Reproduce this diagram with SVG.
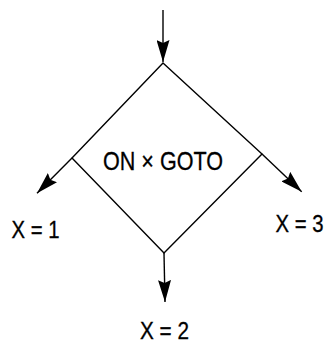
<svg xmlns="http://www.w3.org/2000/svg" width="330" height="344" viewBox="0 0 330 344">
<style>
.ln{fill:none;stroke:#000;stroke-width:1.4}
.tx{font-family:"Liberation Sans Narrow","Liberation Sans",Arial,sans-serif;fill:#000;stroke:#000;stroke-width:0.3}
</style>
<defs>
<marker id="ah" viewBox="0 0 22 13" markerWidth="22" markerHeight="13" refX="22" refY="6.5" orient="auto" markerUnits="userSpaceOnUse">
<path d="M0,0 L22,6.5 L0,13 L3,6.5 z" fill="#000"/>
</marker>
</defs>
<rect width="330" height="344" fill="#fff"/>
<g id="decision">
<polygon class="ln" points="163,63 262,154 164,253 72,158"/>
<text class="tx" x="163" y="170" font-size="26" text-anchor="middle" textLength="120" lengthAdjust="spacingAndGlyphs">ON × GOTO</text>
</g>
<g id="out1">
<text class="tx" x="35.5" y="238.3" font-size="23" text-anchor="middle" textLength="48" lengthAdjust="spacingAndGlyphs">X = 1</text>
</g>
<g id="out2">
<text class="tx" x="164.5" y="339" font-size="23" text-anchor="middle" textLength="49" lengthAdjust="spacingAndGlyphs">X = 2</text>
</g>
<g id="out3">
<text class="tx" x="299.5" y="231.7" font-size="23" text-anchor="middle" textLength="48" lengthAdjust="spacingAndGlyphs">X = 3</text>
</g>
<g id="connectors">
<line class="ln" x1="163" y1="10" x2="163" y2="62" marker-end="url(#ah)"/>
<line class="ln" x1="72" y1="158" x2="37" y2="193.3" marker-end="url(#ah)"/>
<line class="ln" x1="262" y1="154" x2="301.7" y2="191.7" marker-end="url(#ah)"/>
<line class="ln" x1="164" y1="253" x2="165" y2="302" marker-end="url(#ah)"/>
</g>
</svg>
